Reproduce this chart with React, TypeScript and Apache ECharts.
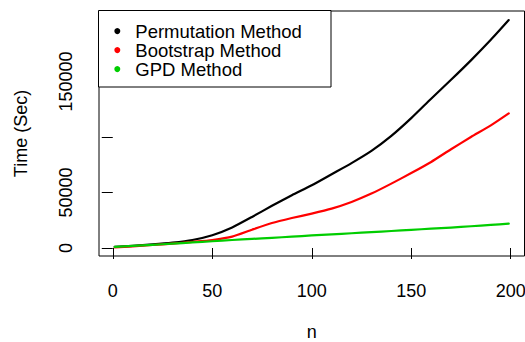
import React, { useEffect, useRef } from "react";
import * as echarts from "echarts";

// Sample sizes at which the three methods were timed
const nValues = [1, 10, 20, 30, 40, 50, 60, 70, 80, 90, 100, 110, 120, 130, 140, 150, 160, 170, 180, 190, 199];

// Computation time in seconds
const permutationTime = [1000, 2000, 3200, 4800, 7200, 11500, 18500, 28000, 38000, 47500, 56500, 66500, 76500, 87500, 101000, 117000, 134500, 151500, 169000, 187500, 205300];
const bootstrapTime = [500, 1500, 2700, 4000, 5500, 7200, 10200, 16500, 22500, 27000, 31000, 35500, 41500, 49000, 58000, 67500, 77500, 89000, 100000, 110500, 121300];
const gpdTime = [1000, 1900, 2900, 3900, 5000, 6100, 7200, 8200, 9200, 10200, 11300, 12300, 13300, 14300, 15300, 16400, 17400, 18400, 19600, 20800, 22000];

const seriesNames = ["Permutation Method", "Bootstrap Method", "GPD Method"];
const seriesColors = ["#000000", "#FF0000", "#00CD00"];

// Axis ticks and the labels printed beside them
const xTicks = [0, 50, 100, 150, 200];
const yTicks = [0, 50000, 100000, 150000, 200000];
const yLabels = [0, 50000, 150000];

const FONT = "'Liberation Sans', Arial, Helvetica, sans-serif";
const FS = 18;

export default function App() {
  const ref = useRef<HTMLDivElement | null>(null);

  useEffect(() => {
    if (!ref.current) return;
    const chart = echarts.init(ref.current, undefined, { renderer: "svg" });
    const seriesData = [permutationTime, bootstrapTime, gpdTime];

    chart.setOption({
      animation: false,
      backgroundColor: "#ffffff",
      textStyle: { fontFamily: FONT },
      grid: {
        left: 99,
        top: 11,
        width: 425.5,
        height: 245,
        outerBoundsMode: "none",
        containLabel: false,
        show: true,
        borderColor: "#000000",
        borderWidth: 1,
        backgroundColor: "transparent",
      },
      legend: {
        orient: "vertical",
        left: 114.3,
        top: 21.6,
        padding: 0,
        itemGap: 0,
        itemWidth: 6,
        itemHeight: 6,
        icon: "circle",
        data: seriesNames.map((name, i) => ({ name, itemStyle: { color: seriesColors[i] } })),
        formatter: (name: string) => `{t|${name}}`,
        textStyle: {
          color: "#000000",
          fontFamily: FONT,
          fontSize: 18.5,
          rich: {
            t: { fontFamily: FONT, fontSize: 18.5, lineHeight: 18.8, padding: [0, 0, 0, 10], color: "#000000" },
          },
        },
        z: 5,
      },
      graphic: [
        {
          type: "rect",
          z: 3,
          shape: { x: 98.5, y: 10.5, width: 232.5, height: 76.5 },
          style: { fill: "#ffffff", stroke: "#000000", lineWidth: 1 },
        },
      ],
      xAxis: {
        type: "value",
        min: -6.92,
        max: 206.92,
        name: "n",
        nameLocation: "middle",
        nameGap: 67,
        nameTextStyle: { fontFamily: FONT, fontSize: FS, color: "#000000" },
        axisLine: { show: false },
        axisTick: {
          show: true,
          inside: false,
          length: 11,
          customValues: xTicks,
          lineStyle: { color: "#000000", width: 1 },
        },
        axisLabel: {
          customValues: xTicks,
          margin: 25.5,
          fontFamily: FONT,
          fontSize: FS,
          color: "#000000",
          formatter: (v: number) => String(v),
        },
        splitLine: { show: false },
      },
      yAxis: {
        type: "value",
        min: -7200,
        max: 213500,
        name: "Time (Sec)",
        nameLocation: "middle",
        nameGap: 69,
        nameTextStyle: { fontFamily: FONT, fontSize: FS, color: "#000000" },
        axisLine: { show: false },
        axisTick: {
          show: true,
          inside: false,
          length: 11,
          customValues: yTicks,
          lineStyle: { color: "#000000", width: 1 },
        },
        axisLabel: {
          customValues: yLabels,
          rotate: 90,
          margin: 24.5,
          fontFamily: FONT,
          fontSize: FS,
          color: "#000000",
          formatter: (v: number) => String(v),
        },
        splitLine: { show: false },
      },
      series: seriesData.map((vals, i) => ({
        name: seriesNames[i],
        type: "line",
        data: nValues.map((n, j) => [n, vals[j]]),
        showSymbol: false,
        symbol: "none",
        smooth: 0.2,
        lineStyle: { color: seriesColors[i], width: 2.2, cap: "round", join: "round" },
        itemStyle: { color: seriesColors[i] },
        z: 2 + i,
      })),
    });

    return () => chart.dispose();
  }, []);

  return (
    <div
      ref={ref}
      style={{ position: "fixed", left: 0, top: 0, width: 525, height: 342, background: "#ffffff" }}
    />
  );
}
